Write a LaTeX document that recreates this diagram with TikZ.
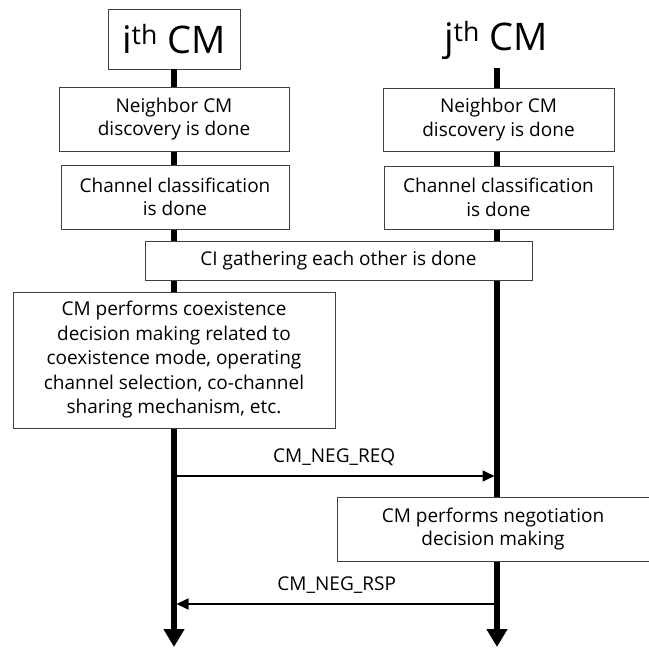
\documentclass[tikz,border=0pt]{standalone}
\usepackage{fontspec}
\setmainfont{Open Sans}
\usetikzlibrary{arrows.meta,positioning}

\begin{document}
\begin{tikzpicture}[x=1pt, y=-1pt,
    font=\fontsize{19}{23.5}\selectfont,
    evbox/.style={draw=black!75, fill=white, line width=0.9pt,
      align=center, inner sep=0pt},
    lifeline/.style={line width=5.5pt, -{Triangle[width=20pt,length=18pt]}},
    msg/.style={line width=1.6pt, -{Triangle[width=11pt,length=12pt]}}]
  \useasboundingbox (0,0) rectangle (649,648);
  % Headers of the two CMs
  \node[evbox,
    minimum width=132pt,
    minimum height=60pt,
    font=\fontsize{38}{40}\selectfont] (ihead) at (174,39) {i\textsuperscript{th} CM};
  \node[inner sep=0pt,
    font=\fontsize{38}{40}\selectfont] (jhead) at (496,40) {j\textsuperscript{th} CM};
  \coordinate (jtop) at (497,68);
  \coordinate (iend) at (174,647);
  \coordinate (jend) at (497,647);
  % Lifelines
  \draw[lifeline] (ihead.south) -- (iend);
  \draw[lifeline] (jtop) -- (jend);
  % Steps on each side
  \node[evbox,
    minimum width=230pt,
    minimum height=64pt] (nbi) at (174,119) {Neighbor CM\\discovery is done};
  \node[evbox,
    minimum width=231pt,
    minimum height=63pt] (nbj) at (498.5,119.5) {Neighbor CM\\discovery is done};
  \node[evbox,
    minimum width=228pt,
    minimum height=64pt] (chi) at (175,197) {Channel classification\\is done};
  \node[evbox,
    minimum width=229pt,
    minimum height=63pt] (chj) at (498.5,197.5) {Channel classification\\is done};
  \node[evbox,
    minimum width=387pt,
    minimum height=39pt] (ci) at (338.5,260.5) {CI gathering each other is done};
  \node[evbox,
    minimum width=322pt,
    minimum height=136pt,
    font=\fontsize{19}{24.5}\selectfont] (dec) at (174,360) {CM performs coexistence\\decision making related to\\coexistence mode, operating\\channel selection, co-channel\\sharing mechanism, etc.};
  % Negotiation messages
  \coordinate (ireq) at (174,476);
  \coordinate (jreq) at (494.5,476);
  \draw[msg] (ireq) -- node[above=6pt] (req) {CM\_NEG\_REQ} (jreq);
  \node[evbox,
    minimum width=312pt,
    minimum height=64pt] (neg) at (493,529) {CM performs negotiation\\decision making};
  \coordinate (jrsp) at (497,604);
  \coordinate (irsp) at (176.5,604);
  \draw[msg] (jrsp) -- node[above=6pt] (rsp) {CM\_NEG\_RSP} (irsp);
\end{tikzpicture}
\end{document}
